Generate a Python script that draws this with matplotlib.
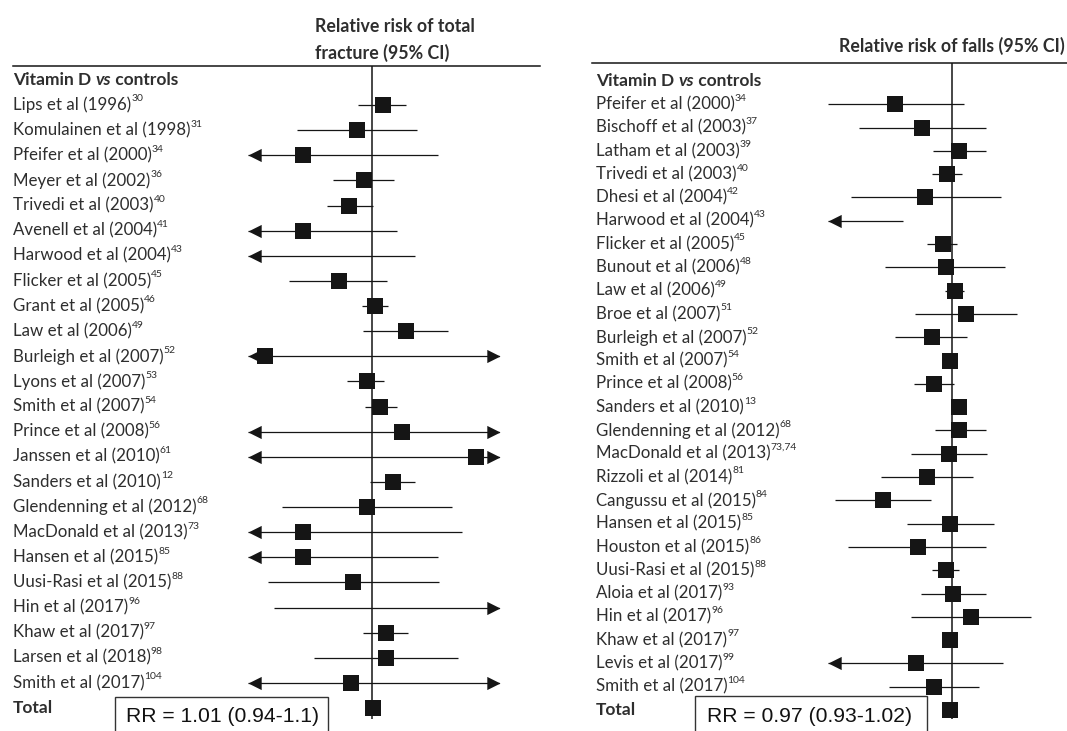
import numpy as np
import matplotlib.pyplot as plt
import matplotlib.transforms as mtransforms
from matplotlib.path import Path
from matplotlib.patches import Rectangle
from matplotlib.lines import Line2D

W, H = 1067, 731
LABEL_FONT = ['Lato', 'DejaVu Sans']
TEXT_COLOR = '#2e2e2e'
INK = '#151515'

# ---- total fracture ----
fracture_studies = [
    "Lips et al (1996)", "Komulainen et al (1998)", "Pfeifer et al (2000)",
    "Meyer et al (2002)", "Trivedi et al (2003)", "Avenell et al (2004)",
    "Harwood et al (2004)", "Flicker et al (2005)", "Grant et al (2005)",
    "Law et al (2006)", "Burleigh et al (2007)", "Lyons et al (2007)",
    "Smith et al (2007)", "Prince et al (2008)", "Janssen et al (2010)",
    "Sanders et al (2010)", "Glendenning et al (2012)", "MacDonald et al (2013)",
    "Hansen et al (2015)", "Uusi-Rasi et al (2015)", "Hin et al (2017)",
    "Khaw et al (2017)", "Larsen et al (2018)", "Smith et al (2017)",
]
fracture_refs = ["30", "31", "34", "36", "40", "41", "43", "45", "46", "49", "52", "53",
                 "54", "56", "61", "12", "68", "73", "85", "88", "96", "97", "98", "104"]
fracture_est = [1.15, 0.82, 0.41, 0.90, 0.74, 0.41, np.nan, 0.65, 1.04, 1.55, 0.25, 0.93,
                1.11, 1.48, 3.86, 1.31, 0.94, 0.41, 0.41, 0.78, np.nan, 1.20, 1.20, 0.76]
fracture_lo = [0.83, 0.38, 0.05, 0.60, 0.56, 0.05, 0.05, 0.34, 0.88, 0.89, 0.05, 0.72,
               0.91, 0.05, 0.05, 0.97, 0.31, 0.05, 0.05, 0.26, 0.28, 0.89, 0.47, 0.05]
fracture_hi = [1.55, 1.79, 2.36, 1.33, 1.01, 1.38, 1.75, 1.22, 1.23, 2.68, 20.0, 1.17,
               1.38, 20.0, 20.0, 1.75, 2.83, 3.22, 2.36, 2.39, 20.0, 1.60, 3.05, 20.0]
fracture_total = [1.01, 0.94, 1.10]

# ---- falls ----
falls_studies = [
    "Pfeifer et al (2000)", "Bischoff et al (2003)", "Latham et al (2003)",
    "Trivedi et al (2003)", "Dhesi et al (2004)", "Harwood et al (2004)",
    "Flicker et al (2005)", "Bunout et al (2006)", "Law et al (2006)",
    "Broe et al (2007)", "Burleigh et al (2007)", "Smith et al (2007)",
    "Prince et al (2008)", "Sanders et al (2010)", "Glendenning et al (2012)",
    "MacDonald et al (2013)", "Rizzoli et al (2014)", "Cangussu et al (2015)",
    "Hansen et al (2015)", "Houston et al (2015)", "Uusi-Rasi et al (2015)",
    "Aloia et al (2017)", "Hin et al (2017)", "Khaw et al (2017)",
    "Levis et al (2017)", "Smith et al (2017)",
]
falls_refs = ["34", "37", "39", "40", "42", "43", "45", "48", "49", "51", "52", "54", "56",
              "13", "68", "73,74", "81", "84", "85", "86", "88", "93", "96", "97", "99", "104"]
falls_est = [0.48, 0.68, 1.10, 0.94, 0.70, np.nan, 0.89, 0.93, 1.04, 1.20, 0.77, 0.97, 0.79,
             1.10, 1.10, 0.96, 0.72, 0.41, 0.97, 0.64, 0.93, 1.01, 1.28, 0.97, 0.63, 0.79]
falls_lo = [0.20, 0.30, 0.78, 0.77, 0.27, 0.05, 0.72, 0.42, 0.91, 0.62, 0.48, 0.93, 0.61,
            1.04, 0.80, 0.59, 0.40, 0.22, 0.56, 0.26, 0.77, 0.67, 0.59, 0.93, 0.05, 0.44]
falls_hi = [1.17, 1.56, 1.56, 1.14, 1.89, 0.53, 1.07, 1.99, 1.17, 2.33, 1.22, 1.02, 1.03,
            1.15, 1.56, 1.58, 1.31, 0.76, 1.73, 1.56, 1.10, 1.56, 2.79, 1.02, 1.94, 1.42]
falls_total = [0.97, 0.93, 1.02]

LEFT_ARROW = Path([(0, 0), (1, 0.5), (1, -0.5), (0, 0)],
                  [Path.MOVETO, Path.LINETO, Path.LINETO, Path.CLOSEPOLY])
RIGHT_ARROW = Path([(0, 0), (-1, 0.5), (-1, -0.5), (0, 0)],
                   [Path.MOVETO, Path.LINETO, Path.LINETO, Path.CLOSEPOLY])


def forest_panel(fig, box, xlim, first_py, last_py, n_rows):
    """Axes placed in pixel coords; rows are integers, 0 = header row."""
    x0, x1, y0, y1 = box
    ax = fig.add_axes([x0 / W, 1 - y1 / H, (x1 - x0) / W, (y1 - y0) / H])
    ax.set_xscale('log')
    ax.set_xlim(xlim)
    step = (last_py - first_py) / (n_rows - 1)
    ax.set_ylim((y1 - first_py) / step, (y0 - first_py) / step)
    ax.axis('off')
    return ax


def draw_rows(ax, est, lo, hi, total):
    xmin, xmax = ax.get_xlim()
    ax.axvline(1.0, color=INK, lw=1.1, zorder=1)
    rows = list(zip(est, lo, hi)) + [tuple(total)]
    for i, (e, l, h) in enumerate(rows, start=1):
        a, b = max(l, xmin), min(h, xmax)
        ax.plot([a, b], [i, i], color=INK, lw=0.9, solid_capstyle='butt', zorder=2)
        if l < xmin:
            ax.plot(xmin, i, marker=LEFT_ARROW, ms=19, color=INK, mew=0, zorder=3)
        if h > xmax:
            ax.plot(xmax, i, marker=RIGHT_ARROW, ms=19, color=INK, mew=0, zorder=3)
        if not np.isnan(e):
            ax.plot(e, i, marker='s', ms=11.2, color=INK, mew=0, zorder=4)


def draw_labels(fig, ax, x_px, studies, refs):
    tr = mtransforms.blended_transform_factory(fig.transFigure, ax.transData)
    bold = dict(family=LABEL_FONT, color=TEXT_COLOR, fontsize=12.5, fontweight='bold')
    kw = dict(family=LABEL_FONT, color=TEXT_COLOR, fontsize=12.2)
    t = ax.text(x_px / W, 0, "Vitamin D ", transform=tr, va='center', ha='left', **bold)
    t = ax.annotate("vs", xy=(1, 0), xycoords=t, va='bottom', ha='left',
                    fontstyle='italic', **bold)
    ax.annotate(" controls", xy=(1, 0), xycoords=t, va='bottom', ha='left', **bold)
    for i, (name, ref) in enumerate(zip(studies, refs), start=1):
        t = ax.text(x_px / W, i, name, transform=tr, va='center', ha='left', **kw)
        ax.annotate(ref, xy=(1, 0.6), xycoords=t, va='bottom', ha='left',
                    family=LABEL_FONT, color=TEXT_COLOR, fontsize=7.5)
    ax.text(x_px / W, len(studies) + 1, "Total", transform=tr, va='center', ha='left',
            **bold)


def rr_box(fig, x0, x1, y0, text, tx):
    fig.add_artist(Rectangle((x0 / W, -0.02), (x1 - x0) / W, 1 - y0 / H + 0.02,
                             transform=fig.transFigure, facecolor='white',
                             edgecolor='#333333', lw=1.0, zorder=5))
    fig.text(tx / W, 1 - 717 / H, text, family=['Liberation Sans', 'DejaVu Sans'],
             fontsize=15.2, color='#111111', va='center', ha='left', zorder=6)


fig = plt.figure(figsize=(W / 100, H / 100), dpi=100)

# left panel: total fracture
ax1 = forest_panel(fig, (248, 500, 66, 719), (0.2, 5.25), 80, 708, 26)
draw_rows(ax1, fracture_est, fracture_lo, fracture_hi, fracture_total)
draw_labels(fig, ax1, 13, fracture_studies, fracture_refs)
fig.add_artist(Line2D([13 / W, 540 / W], [1 - 66 / H] * 2, transform=fig.transFigure,
                      color=INK, lw=1.1))
fig.text(315 / W, 1 - 26 / H, "Relative risk of total", family=LABEL_FONT,
         fontweight='bold', fontsize=12.8, color=TEXT_COLOR, va='center', ha='left')
fig.text(315 / W, 1 - 53 / H, "fracture (95% CI)", family=LABEL_FONT,
         fontweight='bold', fontsize=12.8, color=TEXT_COLOR, va='center', ha='left')
rr_box(fig, 115, 328, 697, "RR = 1.01 (0.94-1.1)", 126)

# right panel: falls
ax2 = forest_panel(fig, (828, 1067, 63, 719), (0.2, 4.45), 81, 710, 28)
draw_rows(ax2, falls_est, falls_lo, falls_hi, falls_total)
draw_labels(fig, ax2, 596, falls_studies, falls_refs)
fig.add_artist(Line2D([592 / W, 1067 / W], [1 - 63 / H] * 2, transform=fig.transFigure,
                      color=INK, lw=1.1))
fig.text(1065 / W, 1 - 46 / H, "Relative risk of falls (95% CI)", family=LABEL_FONT,
         fontweight='bold', fontsize=12.8, color=TEXT_COLOR, va='center', ha='right')
rr_box(fig, 695, 927, 696, "RR = 0.97 (0.93-1.02)", 707)

fig.savefig("out.png", dpi=100)
